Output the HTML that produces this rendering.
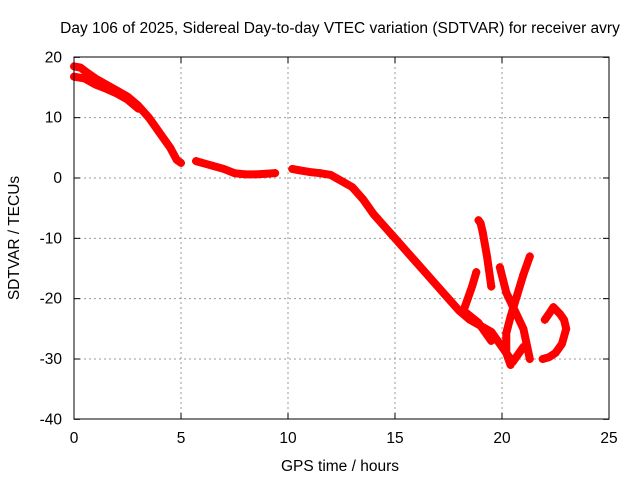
<!DOCTYPE html>
<html><head><meta charset="utf-8"><style>
body{margin:0;background:#fff}
svg{display:block;font-family:"Liberation Sans",sans-serif;font-size:15.5px}
</style></head><body>
<svg id="c" width="640" height="480">
<text x="340" y="33" text-anchor="middle">Day 106 of 2025, Sidereal Day-to-day VTEC variation (SDTVAR) for receiver avry</text>
<text x="340" y="471" text-anchor="middle">GPS time / hours</text>
<text x="19" y="238" text-anchor="middle" transform="rotate(-90 19 238)">SDTVAR / TECUs</text>
<g id="grid"></g><g id="ticks"></g><g id="data"></g>
<rect x="74" y="57" width="535" height="362" fill="none" stroke="#000"/>
</svg>
<script>
const xTicks=[0,5,10,15,20,25];
const yTicks=[20,10,0,-10,-20,-30,-40];
const trackMainT=[0,0.3,0.6,1,1.5,2,2.5,3,3.5,4,4.5,4.8,5];
const trackMainV=[18.5,18.3,17.5,16.5,15.5,14.5,13.5,12,10,7.5,5,3,2.5];
const trackLowT=[0,0.5,1,1.5,2,2.5,3];
const trackLowV=[16.8,16.5,15.5,14.8,14,13,11.5];
const trackMidT=[5.7,6,6.5,7,7.5,8,8.5,9,9.4];
const trackMidV=[2.8,2.5,2,1.5,0.8,0.6,0.6,0.7,0.8];
const trackLateT=[10.2,10.5,11,11.5,12,12.5,13,13.5,14,14.5,15,15.5,16,16.5,17,17.5,18,18.5,19,19.5,20,20.5,21];
const trackLateV=[1.5,1.3,1,0.8,0.5,-0.5,-1.5,-3.5,-6,-8,-10,-12,-14,-16,-18,-20,-22,-23.5,-24.5,-25.5,-28,-30.5,-28];
const branchAT=[18.9,19.0,19.1,19.3,19.5];
const branchAV=[-7,-7.5,-9,-13,-18];
const branchBT=[18.8,18.6,18.4,18.2,18.9,19.5];
const branchBV=[-15.6,-18,-20,-22,-24,-27];
const branchCT=[19.9,20.2,20.6,21,21.3];
const branchCV=[-14.8,-19,-22,-25,-30];
const branchDT=[21.3,21,20.7,20.4,20.2,20.2,20.4];
const branchDV=[-13,-16,-19.5,-23,-25.7,-29,-31];
const loopT=[22,22.2,22.4,22.7,22.9,23,22.8,22.5,22.2,21.9];
const loopV=[-23.5,-22.5,-21.4,-22.5,-23.5,-25,-27.5,-29,-29.7,-30];
const tracks=[[trackMainT,trackMainV],[trackLowT,trackLowV],[trackMidT,trackMidV],[trackLateT,trackLateV],[branchAT,branchAV],[branchBT,branchBV],[branchCT,branchCV],[branchDT,branchDV],[loopT,loopV]];
const X=t=>74+t*21.4, Y=v=>178-v*6.033;
const ns="http://www.w3.org/2000/svg";
const g=document.getElementById('grid'),tk=document.getElementById('ticks'),d=document.getElementById('data');
function mk(tag,a,p){const e=document.createElementNS(ns,tag);for(const k in a)e.setAttribute(k,a[k]);p.appendChild(e);return e;}
xTicks.forEach(t=>{
 if(t>0&&t<25){const l=mk('line',{x1:X(t),x2:X(t),y1:57,y2:419,stroke:'#999','stroke-dasharray':'2,3'},g);
 
 }
 const s=mk('text',{x:X(t),y:443,'text-anchor':'middle'},tk);s.textContent=t;
 
 
 mk('line',{x1:X(t),x2:X(t),y1:419,y2:413,stroke:'#000'},tk);mk('line',{x1:X(t),x2:X(t),y1:57,y2:63,stroke:'#000'},tk);
});
yTicks.forEach(v=>{
 if(v<20&&v>-40){const l=mk('line',{x1:74,x2:609,y1:Y(v),y2:Y(v),stroke:'#999','stroke-dasharray':'2,3'},g);
 
 }
 const s=mk('text',{x:62,y:Y(v)+5,'text-anchor':'end'},tk);s.textContent=v;
 
 
 mk('line',{x1:74,x2:80,y1:Y(v),y2:Y(v),stroke:'#000'},tk);mk('line',{x1:609,x2:603,y1:Y(v),y2:Y(v),stroke:'#000'},tk);
});
tracks.forEach(([ts,vs])=>{
 const pts=ts.map((t,i)=>X(t)+','+Y(vs[i])).join(' ');
 const p=mk('polyline',{points:pts,fill:'none',stroke:'#f00','stroke-width':8,'stroke-linejoin':'round','stroke-linecap':'round'},d);
 
 
 ts.forEach((t,i)=>{const m=mk('path',{d:`M${X(t)-4},${Y(vs[i])}h8M${X(t)},${Y(vs[i])-4}v8`,stroke:'#f00','stroke-width':1.5},d);
 
 });
});
</script>
</body></html>
